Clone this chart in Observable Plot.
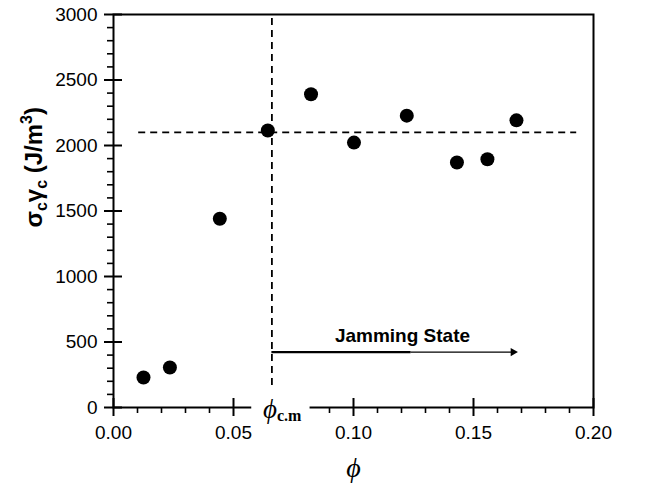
<!DOCTYPE html>
<html><head><meta charset="utf-8">
<script src="https://cdn.jsdelivr.net/npm/d3@7"></script>
<script src="https://cdn.jsdelivr.net/npm/@observablehq/plot@0.6"></script>
<style>body{margin:0;background:#fff;}</style>
</head><body><div id="chart"></div>
<script>
// ---- data ----
const phi    = [0.0125, 0.0235, 0.0443, 0.0643, 0.0823, 0.1002, 0.1222, 0.1431, 0.1558, 0.1679];
const energy = [229, 305, 1441, 2114, 2391, 2022, 2228, 1870, 1895, 2192];
const plateauLevel = 2100;
const plateauFrom = 0.0105, plateauTo = 0.193;
const phiCM = 0.066;
const phiCMLineFrom = 168, phiCMLineTo = 3000;
const arrowFrom = 0.066, arrowSplit = 0.124, arrowTo = 0.1665, arrowLevel = 423;
const jamText = "Jamming State";
const jamX = 0.1204, jamY = 550;
const xMajor = [0, 0.05, 0.10, 0.15, 0.20];
const xMinor = [0.01,0.02,0.03,0.04,0.06,0.07,0.08,0.09,0.11,0.12,0.13,0.14,0.16,0.17,0.18,0.19];
const yMajor = [0, 500, 1000, 1500, 2000, 2500, 3000];
const yMinor = [100,200,300,400,600,700,800,900,1100,1200,1300,1400,1600,1700,1800,1900,2100,2200,2300,2400,2600,2700,2800,2900];
const axisGap = [0.0576, 0.0819];
const phiCMLabelStart = 0.0625;

const points = phi.map((x, i) => ({x, y: energy[i]}));

const W = 663, H = 491, ML = 113, MR = 70, MT = 14, MB = 84;
const FW = W - ML - MR, FH = H - MT - MB;
const sans = "Liberation Sans, Arial, sans-serif";
const serif = "Liberation Serif, Times New Roman, serif";

const plot = Plot.plot({
  width: W, height: H,
  marginLeft: ML, marginRight: MR, marginTop: MT, marginBottom: MB,
  style: {fontFamily: sans, fontSize: "19px", color: "black", background: "white"},
  x: {domain: [0, 0.2]},
  y: {domain: [0, 3000]},
  marks: [
    Plot.axisY(yMinor, {tickSize: 6, strokeWidth: 1.6, tickFormat: () => "", label: null}),
    Plot.axisY(yMajor, {tickSize: 9, tickPadding: 7, strokeWidth: 2, label: null, fontSize: 19, tickFormat: d3.format("d")}),
    Plot.tickY(yMajor, {y: d => d, insetRight: FW - 9, stroke: "black", strokeWidth: 2}),
    Plot.axisX(xMinor, {tickSize: 6, strokeWidth: 1.6, tickFormat: () => "", label: null}),
    Plot.axisX(xMajor, {tickSize: 9, tickPadding: 9, strokeWidth: 2, label: null, fontSize: 19, tickFormat: d3.format(".2f")}),
    Plot.tickX(xMajor, {x: d => d, insetTop: FH - 9, stroke: "black", strokeWidth: 2}),
    Plot.frame({stroke: "black", strokeWidth: 2}),
    Plot.ruleY([plateauLevel], {x1: plateauFrom, x2: plateauTo, stroke: "black", strokeWidth: 1.8, strokeDasharray: "7,5"}),
    Plot.ruleX([phiCM], {y1: phiCMLineFrom, y2: phiCMLineTo, stroke: "black", strokeWidth: 1.8, strokeDasharray: "7,5"}),
    Plot.ruleY([0], {x1: axisGap[0], x2: axisGap[1], stroke: "white", strokeWidth: 16}),
    Plot.ruleY([arrowLevel], {x1: arrowFrom, x2: arrowSplit, stroke: "black", strokeWidth: 2.4}),
    Plot.ruleY([arrowLevel], {x1: arrowSplit, x2: arrowTo, stroke: "black", strokeWidth: 1.2}),
    Plot.dot([arrowTo], {x: d => d, y: arrowLevel, symbol: "triangle2", r: 4, fill: "black", rotate: 90}),
    Plot.text([jamText], {x: jamX, y: jamY, text: d => d, fontWeight: "bold", fontSize: 19, fontFamily: sans}),
    Plot.dot(points, {x: "x", y: "y", r: 7, fill: "black", stroke: null}),
    Plot.text(["ϕ"], {frameAnchor: "bottom", dy: 69, text: d => d, fontStyle: "italic", fontFamily: serif, fontSize: 28})
  ]
});

document.getElementById("chart").appendChild(plot);

// labels with subscripts
const svg = d3.select(plot);
const xs = plot.scale("x"), ys = plot.scale("y");
const lab = svg.append("text")
  .attr("x", xs.apply(phiCMLabelStart)).attr("y", ys.apply(0) + 11)
  .attr("text-anchor", "start")
  .attr("font-family", serif).attr("fill", "black");
lab.append("tspan").attr("font-size", 27).attr("font-style", "italic").text("ϕ");
lab.append("tspan").attr("font-size", 16).attr("font-weight", "bold").attr("dy", 3).text("c.m");

const yl = svg.append("text")
  .attr("transform", `translate(42,${ys.apply(1830)}) rotate(-90)`)
  .attr("text-anchor", "middle")
  .attr("font-family", sans).attr("font-weight", "bold").attr("font-size", 24).attr("fill", "black");
yl.append("tspan").text("σ");
yl.append("tspan").attr("font-size", 16).attr("dy", 5).text("c");
yl.append("tspan").attr("dy", -5).text("γ");
yl.append("tspan").attr("font-size", 16).attr("dy", 5).text("c");
yl.append("tspan").attr("dy", -5).text(" (J/m");
yl.append("tspan").attr("font-size", 16).attr("dy", -10).text("3");
yl.append("tspan").attr("dy", 10).text(")");
</script>
</body></html>
